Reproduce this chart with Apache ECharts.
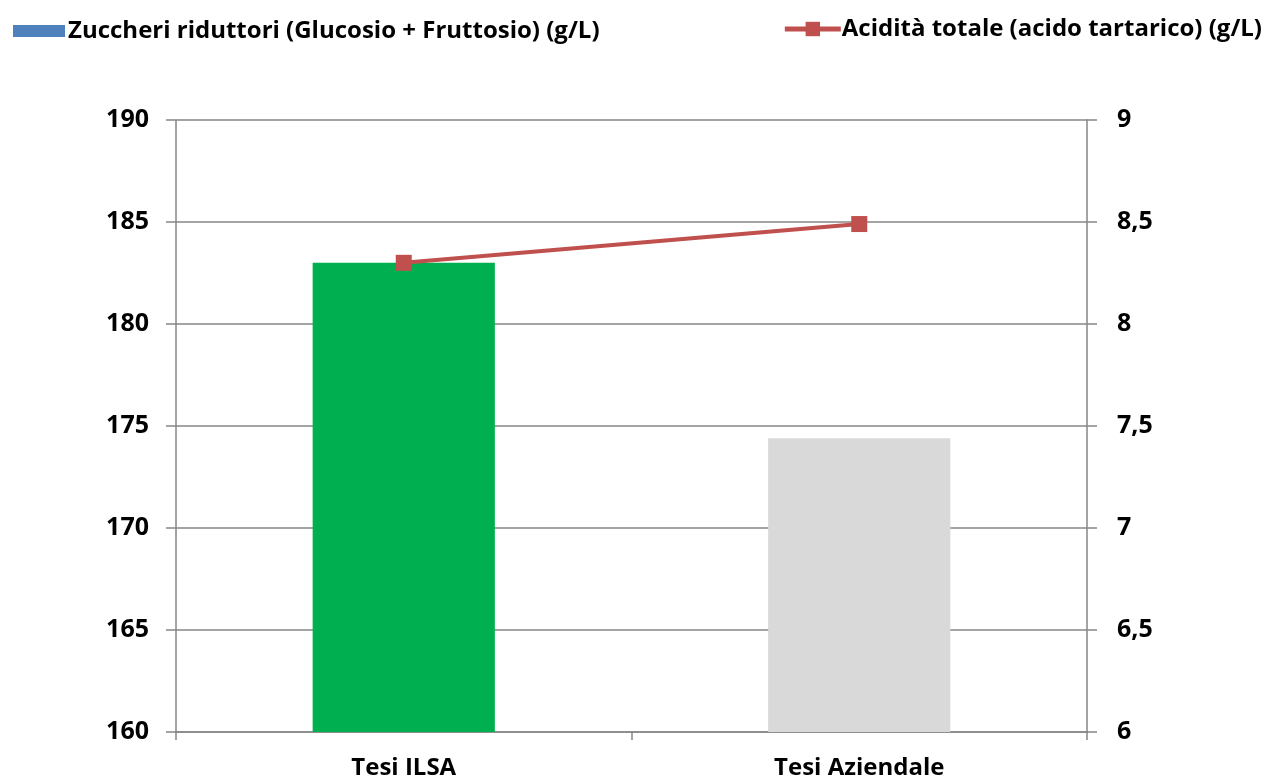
<!DOCTYPE html>
<html><head><meta charset="utf-8">
<script src="https://cdn.jsdelivr.net/npm/echarts@6/dist/echarts.min.js"></script>
<style>html,body{margin:0;padding:0;background:#fff}#c{width:1271px;height:780px}</style>
</head><body><div id="c"></div>
<script>
const categories = ['Tesi ILSA', 'Tesi Aziendale'];
const sugarValues = [183.0, 174.4];
const acidityValues = [8.30, 8.49];
const barColors = ['#00B050', '#D9D9D9'];
const sugarName = 'Zuccheri riduttori (Glucosio + Fruttosio) (g/L)';
const acidName = 'Acidità totale (acido tartarico) (g/L)';

const font = '"Open Sans", "Noto Sans", sans-serif';
const chart = echarts.init(document.getElementById('c'));
chart.setOption({
  animation: false,
  textStyle: { fontFamily: font },
  legend: [
    { data: [{ name: sugarName, icon: 'rect' }], left: 8, top: 14, itemWidth: 52, itemHeight: 12, itemGap: 4,
      textStyle: { fontSize: 24, fontWeight: 'bold', color: '#000', fontFamily: font, padding: [0, 0, 0, -2] } },
    { data: [acidName], right: 4, top: 12, itemWidth: 56, itemHeight: 18,
      lineStyle: { width: 5 },
      textStyle: { fontSize: 24, fontWeight: 'bold', color: '#000', fontFamily: font, padding: [0, 0, 0, -4] } }
  ],
  grid: { left: 176, right: 184, top: 120, bottom: 48, containLabel: false },
  xAxis: {
    type: 'category', data: categories,
    axisLine: { lineStyle: { color: '#868686', width: 1.5 } },
    axisTick: { show: true, alignWithLabel: false, length: 8, lineStyle: { color: '#868686', width: 1.5 } },
    axisLabel: { fontSize: 24, fontWeight: 'bold', color: '#000', margin: 24, fontFamily: font }
  },
  yAxis: [
    { type: 'value', min: 160, max: 190, interval: 5, position: 'left',
      axisLine: { show: true, lineStyle: { color: '#868686', width: 1.5 } },
      axisTick: { show: true, length: 10, lineStyle: { color: '#868686', width: 1.5 } },
      splitLine: { show: true, lineStyle: { color: '#868686', width: 1.5 } },
      axisLabel: { fontSize: 25, fontWeight: 'bold', color: '#000', margin: 27, fontFamily: font } },
    { type: 'value', min: 6, max: 9, interval: 0.5, position: 'right',
      axisLine: { show: true, lineStyle: { color: '#868686', width: 1.5 } },
      axisTick: { show: true, length: 10, lineStyle: { color: '#868686', width: 1.5 } },
      splitLine: { show: false },
      axisLabel: { fontSize: 25, fontWeight: 'bold', color: '#000', margin: 30, align: 'left', fontFamily: font,
        formatter: v => String(v).replace('.', ',') } }
  ],
  series: [
    { name: sugarName, type: 'bar', yAxisIndex: 0, barWidth: '40%',
      itemStyle: { color: '#4F81BD' },
      data: sugarValues.map((v, i) => ({ value: v, itemStyle: { color: barColors[i] } })) },
    { name: acidName, type: 'line', yAxisIndex: 1, data: acidityValues,
      symbol: 'rect', symbolSize: 16,
      lineStyle: { color: '#C0504D', width: 4 },
      itemStyle: { color: '#C0504D' } }
  ]
});
</script></body></html>
